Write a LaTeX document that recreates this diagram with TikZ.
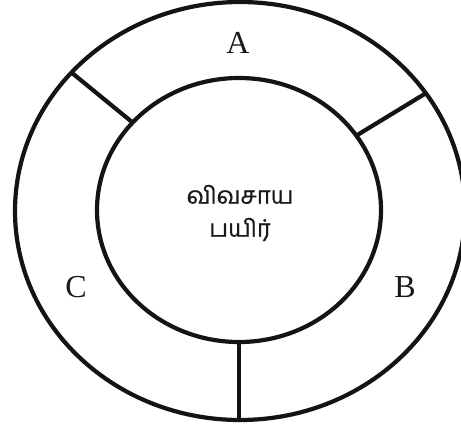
\documentclass[tikz,border=0pt]{standalone}
\usepackage{fontspec}
\setmainfont{Liberation Serif}
\newfontfamily\tamilfont[Script=Tamil,FakeBold=0.6]{Hind Madurai}
\begin{document}
\begin{tikzpicture}[x=1pt,y=-1pt,
  ring/.style={line width=4.2pt,draw=black!92},
  divider/.style={line width=4.2pt,draw=black!92},
  lbl/.style={font=\fontsize{32}{33}\selectfont,text=black!90},
  centretext/.style={font=\tamilfont\fontsize{24}{33}\selectfont,align=center,text=black!90}]
\useasboundingbox (0,0) rectangle (461,432);
\draw[ring] (240,211) ellipse [x radius=225, y radius=209];
\draw[ring] (239,210) ellipse [x radius=142, y radius=132];
\coordinate (oAC) at ({240+225*cos(138.5)},{211-209*sin(138.5)});
\coordinate (iAC) at ({239+142*cos(138.5)},{210-132*sin(138.5)});
\coordinate (oAB) at ({240+225*cos(34.3)},{211-209*sin(34.3)});
\coordinate (iAB) at ({239+142*cos(34.3)},{210-132*sin(34.3)});
\coordinate (oBC) at (239,420);
\coordinate (iBC) at (239,342);
\draw[divider] (oAC) -- (iAC);
\draw[divider] (oAB) -- (iAB);
\draw[divider] (oBC) -- (iBC);
\node[lbl] (A) at (238,43) {A};
\node[lbl] (B) at (405,287) {B};
\node[lbl] (C) at (76,287) {C};
\node[centretext] (centre) at (240,213) {விவசாய\\பயிர்};
\end{tikzpicture}
\end{document}
